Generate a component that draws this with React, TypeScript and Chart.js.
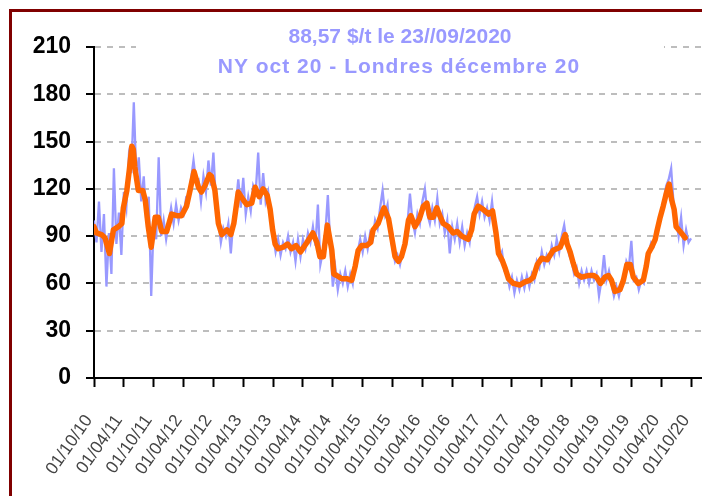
import React, { useEffect, useRef } from "react";
import { Chart, registerables } from "chart.js";

Chart.register(...registerables);

// X axis: months since 01/10/2010
const tickMonths = [0, 6, 12, 18, 24, 30, 36, 42, 48, 54, 60, 66, 72, 78, 84, 90, 96, 102, 108, 114, 120];
const tickLabels = [
  "01/10/10", "01/04/11", "01/10/11", "01/04/12", "01/10/12", "01/04/13", "01/10/13",
  "01/04/14", "01/10/14", "01/04/15", "01/10/15", "01/04/16", "01/10/16", "01/04/17",
  "01/10/17", "01/04/18", "01/10/18", "01/04/19", "01/10/19", "01/04/20", "01/10/20",
];
const yTicks = [0, 30, 60, 90, 120, 150, 180, 210];

const titleLines = ["88,57 $/t le 23//09/2020", "NY oct 20 - Londres décembre 20"];

// Daily price (blue), read every half month
const blueValues = [
  100, 86, 112, 80, 104, 58, 92, 66, 133, 85, 105, 78,
  118, 108, 140, 130, 175, 128, 140, 112, 128, 100, 115, 52,
  100, 88, 140, 90, 100, 88, 98, 108, 98, 110, 100, 108,
  104, 114, 112, 126, 138, 125, 126, 112, 128, 118, 138, 122,
  143, 112, 100, 86, 95, 90, 98, 79, 100, 110, 126, 108,
  127, 104, 115, 106, 122, 118, 143, 110, 130, 112, 118, 100,
  90, 80, 88, 78, 86, 82, 90, 80, 86, 74, 88, 77,
  88, 82, 92, 86, 96, 84, 110, 72, 80, 92, 116, 84,
  58, 70, 56, 66, 60, 68, 58, 66, 60, 76, 80, 88,
  80, 90, 82, 92, 88, 100, 95, 108, 119, 104, 110, 92,
  82, 74, 78, 72, 80, 88, 98, 117, 100, 92, 104, 98,
  112, 120, 104, 98, 108, 100, 114, 98, 104, 92, 100, 79,
  96, 88, 98, 86, 96, 84, 92, 86, 100, 108, 115, 104,
  112, 102, 108, 100, 112, 96, 84, 76, 80, 68, 66, 58,
  64, 54, 62, 56, 64, 57, 65, 58, 66, 62, 74, 70,
  80, 72, 78, 74, 84, 78, 88, 80, 90, 97, 86, 78,
  74, 66, 70, 60, 68, 62, 68, 60, 68, 62, 66, 52,
  62, 78, 62, 68, 60, 52, 58, 52, 60, 64, 74, 70,
  87, 62, 64, 56, 62, 60, 74, 80, 86, 84, 94, 98,
  106, 112, 122, 126, 133, 110, 100, 90, 102, 84, 94, 86,
  88.6,
];
const blueStepMonths = 0.5;

// Moving average (orange)
const orangeMonths = [
  0, 0.5, 1.5, 2.2, 3.1, 3.9, 4.9, 5.6, 5.9, 6.6, 7.1, 7.6, 7.9, 8.2, 8.9, 9.8, 10.3, 10.9, 11.5,
  12.3, 12.9, 13.6, 14.6, 15.6, 16.6, 17.6, 18.6, 19.3, 20.1, 21, 21.6, 22.3, 23.2, 23.6, 24.3,
  24.7, 25, 25.7, 26.7, 27.5, 28.1, 28.5, 29, 30, 30.7, 31.7, 32.4, 33.2, 34, 34.8, 35.4, 35.9,
  36.4, 37, 38, 38.9, 39.7, 40.6, 41.5, 42.8, 44, 44.8, 45.4, 46.1, 46.4, 46.9, 47.3, 47.8, 48.2,
  48.8, 49.8, 50.8, 51.8, 52.5, 53.1, 53.8, 54.8, 55.6, 56.1, 57.1, 57.8, 58.3, 59.2, 59.8, 60.5,
  61.2, 61.8, 62.5, 63.2, 63.7, 64.5, 65.4, 66.2, 66.9, 67.5, 68.2, 68.9, 69.5, 70.2, 71.2, 72.2,
  73, 73.9, 75.2, 75.9, 76.4, 77.2, 78.2, 79.3, 80.1, 80.8, 81.3, 82, 82.6, 83.3, 84.3, 85.6,
  86.6, 87.6, 88.3, 89.1, 90, 91.1, 92.3, 93.7, 94.7, 95.1, 95.7, 96.3, 97, 98, 99.3, 100.4, 101,
  101.8, 102.7, 103.4, 104, 104.7, 105.7, 106.4, 107.1, 107.8, 108.4, 109.4, 110.4, 111, 111.4,
  112.1, 112.8, 113.2, 113.8, 114.4, 115.1, 115.6, 116.1, 116.6, 117, 117.8, 118.8,
];
const orangeValues = [
  96, 92, 91, 89, 79, 94, 96, 98, 108, 119, 132, 147, 145, 134, 119, 119, 113, 96, 83,
  102, 102, 93, 93, 104, 103, 103, 109, 119, 131, 121, 118, 122, 129, 128, 119,
  107, 98, 91, 94, 91, 98, 107, 118, 113, 110, 111, 121, 115, 120, 116, 107, 94,
  85, 82, 83, 85, 82, 84, 80, 86, 92, 86, 77, 77, 85, 97, 90, 81, 66,
  65, 63, 63, 62, 71, 81, 84, 84, 86, 94, 98, 104, 108, 101, 90, 77,
  74, 77, 85, 100, 103, 96, 101, 109, 111, 102, 102, 108, 103, 98, 96, 92,
  93, 90, 88, 94, 104, 109, 107, 104, 106, 92, 79, 75, 70, 63, 60, 59,
  61, 62, 64, 72, 76, 75, 81, 83, 91, 85, 80, 73, 66, 64, 65, 65, 64,
  60, 64, 65, 62, 55, 56, 62, 72, 72, 64, 60, 62, 71, 79,
  83, 88, 94, 102, 109, 118, 123, 113, 107, 96, 93, 89,
];

const FONT = '"Liberation Sans", Arial, Helvetica, sans-serif';
const NARROW = '"Liberation Sans Narrow", "Arial Narrow", "Liberation Sans", sans-serif';

const titlePlugin = {
  id: "titleBox",
  beforeDatasetsDraw(chart: any) {
    const ctx = chart.ctx as CanvasRenderingContext2D;
    ctx.save();
    ctx.fillStyle = "#ffffff";
    ctx.fillRect(136, 14, 528, 66);
    ctx.fillStyle = "#9999ff";
    ctx.font = `bold 21px ${FONT}`;
    ctx.textAlign = "center";
    ctx.textBaseline = "alphabetic";
    ctx.fillText(titleLines[0], 400, 43);
    (ctx as any).letterSpacing = "1px";
    ctx.fillText(titleLines[1], 399, 73);
    ctx.restore();
  },
};

export default function App() {
  const canvasRef = useRef<HTMLCanvasElement | null>(null);

  useEffect(() => {
    if (!canvasRef.current) return;
    const blueData = blueValues.map((v, i) => ({ x: i * blueStepMonths, y: v }));
    const orangeData = orangeValues.map((v, i) => ({ x: orangeMonths[i], y: v }));
    const chart = new Chart(canvasRef.current, {
      type: "line",
      data: {
        datasets: [
          {
            data: orangeData,
            borderColor: "#ff6600",
            borderWidth: 5.5,
            borderJoinStyle: "round",
            borderCapStyle: "round",
            pointRadius: 0,
            tension: 0,
          },
          {
            data: blueData,
            borderColor: "#9999ff",
            borderWidth: 2.3,
            pointRadius: 0,
            tension: 0,
          },
        ],
      },
      options: {
        animation: false,
        responsive: false,
        maintainAspectRatio: false,
        layout: { padding: { left: 0, right: 0, top: 47, bottom: 0 } },
        plugins: {
          legend: { display: false },
          tooltip: { enabled: false },
          title: { display: false },
        },
        scales: {
          x: {
            type: "linear",
            min: 0,
            max: 122.2,
            afterBuildTicks: (s: any) => {
              s.ticks = tickMonths.map((v) => ({ value: v }));
            },
            afterFit: (s: any) => {
              s.height = 118;
              s.paddingLeft = 0;
              s.paddingRight = 0;
            },
            ticks: {
              autoSkip: false,
              minRotation: 55,
              maxRotation: 55,
              padding: 24,
              labelOffset: -5,
              color: "#444",
              font: { family: NARROW, size: 17.5 },
              callback: (_v: any, i: number) => tickLabels[i],
            },
            grid: {
              drawOnChartArea: false,
              drawTicks: true,
              tickLength: 9,
              tickWidth: 2,
              tickColor: "#000",
            },
            border: { display: true, color: "#000", width: 2 },
          },
          y: {
            min: 0,
            max: 210,
            afterBuildTicks: (s: any) => {
              s.ticks = yTicks.map((v) => ({ value: v }));
            },
            afterFit: (s: any) => {
              s.width = 94;
              s.paddingTop = 0;
              s.paddingBottom = 0;
            },
            ticks: {
              padding: 15,
              color: "#000",
              font: { family: FONT, size: 23, weight: "bold" },
              callback: (v: any) => String(v),
            },
            grid: {
              color: "#bdbdbd",
              lineWidth: 2,
              tickLength: 8,
              tickWidth: 2,
              tickColor: "#000",
            },
            border: { display: true, color: "#000", width: 2, dash: [6, 6] },
          },
        },
      } as any,
      plugins: [titlePlugin],
    });
    return () => chart.destroy();
  }, []);

  return (
    <div
      style={{
        position: "fixed",
        left: 0,
        top: 0,
        width: 702,
        height: 496,
        overflow: "hidden",
        background: "#ffffff",
      }}
    >
      <div
        style={{
          position: "absolute",
          left: 9,
          top: 9,
          width: 900,
          height: 800,
          border: "3px solid #800000",
          boxSizing: "border-box",
        }}
      />
      <canvas
        ref={canvasRef}
        width={702}
        height={496}
        style={{ position: "absolute", left: 0, top: 0, width: 702, height: 496 }}
      />
    </div>
  );
}
